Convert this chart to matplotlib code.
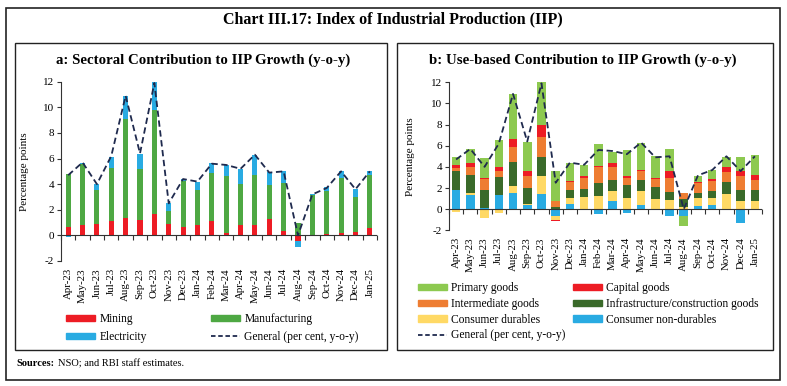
import matplotlib
matplotlib.use("Agg")
import matplotlib.pyplot as plt
import numpy as np
from matplotlib.patches import Rectangle
from matplotlib.lines import Line2D
from matplotlib.patches import Patch

plt.rcParams['font.family'] = ['Liberation Serif', 'DejaVu Serif']

months = ["Apr-23", "May-23", "Jun-23", "Jul-23", "Aug-23", "Sep-23", "Oct-23", "Nov-23",
          "Dec-23", "Jan-24", "Feb-24", "Mar-24", "Apr-24", "May-24", "Jun-24", "Jul-24",
          "Aug-24", "Sep-24", "Oct-24", "Nov-24", "Dec-24", "Jan-25"]

general = [4.7, 5.7, 4.0, 6.2, 10.9, 6.4, 11.9, 2.5, 4.4, 4.2, 5.6, 5.5,
           5.2, 6.3, 4.9, 5.0, 0.0, 3.2, 3.7, 5.0, 3.6, 5.0]

# Panel a: sectoral contributions
mining = [0.62, 0.78, 0.88, 1.14, 1.32, 1.22, 1.64, 0.88, 0.68, 0.78, 1.09, 0.18,
          0.83, 0.80, 1.25, 0.36, -0.45, -0.02, 0.10, 0.20, 0.30, 0.58]
manufacturing = [4.16, 4.78, 2.70, 4.11, 7.74, 4.00, 8.15, 0.99, 3.58, 2.80, 3.77, 4.44,
                 3.22, 3.88, 2.70, 3.72, 0.93, 3.19, 3.40, 4.27, 2.69, 4.17]
electricity = [-0.15, 0.10, 0.45, 0.90, 1.82, 1.12, 2.16, 0.65, 0.13, 0.58, 0.78, 0.88,
               1.14, 1.61, 1.01, 0.93, -0.45, 0.05, 0.24, 0.52, 0.65, 0.29]

# Panel b: use-based contributions
cons_nondurables = [1.80, 1.33, 0.12, 1.33, 1.52, 0.41, 1.42, -0.60, 0.47, 0.02, -0.50, 0.73,
                    -0.40, 0.38, -0.10, -0.65, -0.65, 0.28, 0.38, 0.05, -1.32, 0.02]
cons_durables = [-0.25, 0.16, -0.80, -0.40, 0.66, 0.09, 1.68, -0.45, 0.54, 1.17, 1.27, 0.98,
                 1.04, 1.33, 0.92, 0.85, 0.20, 0.73, 0.63, 1.40, 0.79, 0.72]
infrastructure = [1.84, 1.74, 1.68, 1.74, 2.31, 1.46, 1.84, 0.22, 0.79, 0.76, 1.17, 1.04,
                  1.24, 1.04, 1.17, 0.80, 0.75, 0.54, 0.70, 1.16, 1.04, 1.04]
intermediate = [0.29, 0.73, 1.05, 0.57, 1.40, 1.17, 1.86, 0.57, 0.76, 1.01, 1.58, 1.21,
                0.69, 0.85, 0.73, 1.32, 0.60, 0.89, 0.95, 0.95, 1.26, 1.01]
capital = [0.22, 0.41, 0.12, 0.32, 0.76, 0.51, 1.17, -0.10, 0.13, 0.13, 0.06, 0.44,
           0.16, 0.07, 0.09, 0.67, 0.02, 0.16, 0.16, 0.41, 0.53, 0.41]
primary = [0.75, 1.29, 1.84, 2.59, 4.20, 2.69, 4.02, 2.85, 1.65, 1.04, 2.09, 1.04,
           2.47, 2.56, 2.12, 2.02, -0.90, 0.57, 0.88, 1.01, 1.29, 1.92]

C_RED = '#ED1C24'
C_GREEN = '#4EA843'
C_BLUE = '#29ABE2'
C_LGREEN = '#8DC950'
C_ORANGE = '#EE7D32'
C_DGREEN = '#3A6A2A'
C_YELLOW = '#FFD965'
C_LINE = '#1F2A4E'

W, H = 787, 386
fig = plt.figure(figsize=(W / 100, H / 100), dpi=100)


def fx(px):
    return px / W


def fy(py):
    return 1 - py / H


# Outer border and panel boxes
fig.patches.append(Rectangle((fx(6), fy(380)), fx(774), (380 - 8) / H, transform=fig.transFigure,
                             fill=False, edgecolor='#222222', lw=1.2))
fig.patches.append(Rectangle((fx(15), fy(350)), fx(372), (350 - 43) / H, transform=fig.transFigure,
                             fill=False, edgecolor='#222222', lw=1.0))
fig.patches.append(Rectangle((fx(397), fy(350)), fx(376), (350 - 43) / H, transform=fig.transFigure,
                             fill=False, edgecolor='#222222', lw=1.0))

fig.text(fx(393), fy(19), "Chart III.17: Index of Industrial Production (IIP)", ha='center', va='center',
         fontsize=11.5, fontweight='bold')
fig.text(fx(203), fy(60), "a: Sectoral Contribution to IIP Growth (y-o-y)", ha='center', va='center',
         fontsize=10.7, fontweight='bold')
fig.text(fx(583), fy(60), "b: Use-based Contribution to IIP Growth (y-o-y)", ha='center', va='center',
         fontsize=10.7, fontweight='bold')

t1 = fig.text(fx(16), fy(364), "Sources:", ha='left', va='center', fontsize=7.5, fontweight='bold')
fig.text(fx(58), fy(364), "NSO; and RBI staff estimates.", ha='left', va='center', fontsize=7.5)


def stack(ax, series, colors, width):
    x = np.arange(len(months))
    pos = np.zeros(len(months))
    neg = np.zeros(len(months))
    for vals, c in zip(series, colors):
        v = np.array(vals, dtype=float)
        bottoms = np.where(v >= 0, pos, neg)
        ax.bar(x, v, width=width, bottom=bottoms, color=c, edgecolor='none', zorder=2)
        pos = pos + np.where(v >= 0, v, 0)
        neg = neg + np.where(v < 0, v, 0)


def style_axes(ax):
    x = np.arange(len(months))
    ax.set_xlim(-0.5, len(months) - 0.5)
    ax.set_ylim(-2, 12)
    ax.set_yticks(np.arange(-2, 13, 2))
    ax.set_yticklabels([str(v) for v in range(-2, 13, 2)], fontsize=8)
    for s in ['top', 'right', 'bottom']:
        ax.spines[s].set_visible(False)
    ax.spines['left'].set_color('#333333')
    ax.spines['left'].set_linewidth(0.8)
    ax.tick_params(axis='y', length=3, width=0.8, color='#333333', pad=2)
    ax.set_xticks(x)
    ax.set_xticklabels(months, rotation=90, fontsize=7.8)
    ax.tick_params(axis='x', length=0, pad=5)
    ax.axhline(0, color='#333333', lw=0.8, zorder=3)
    sec = ax.secondary_xaxis(2 / 14)
    sec.set_xticks(np.arange(-0.5, len(months), 1.0))
    sec.set_xticklabels([])
    sec.spines['bottom'].set_visible(False)
    sec.tick_params(axis='x', direction='out', length=3.5, width=0.8, color='#333333')
    ax.set_ylabel("Percentage points", fontsize=8)


# Panel a
axa = fig.add_axes([fx(61), fy(261), fx(316), (261 - 81.7) / H])
stack(axa, [mining, manufacturing, electricity], [C_RED, C_GREEN, C_BLUE], 0.36)
axa.plot(np.arange(len(months)), general, color=C_LINE, lw=1.3, ls=(0, (3.5, 2)), zorder=4)
style_axes(axa)
axa.yaxis.set_label_coords(-(61 - 29) / 316, 0.5)

# Panel b
axb = fig.add_axes([fx(449), fy(230.3), fx(313), (230.3 - 82.3) / H])
stack(axb, [cons_nondurables, cons_durables, infrastructure, intermediate, capital, primary],
      [C_BLUE, C_YELLOW, C_DGREEN, C_ORANGE, C_RED, C_LGREEN], 0.6)
axb.plot(np.arange(len(months)), general, color=C_LINE, lw=1.3, ls=(0, (3.5, 2)), zorder=4)
style_axes(axb)
axb.yaxis.set_label_coords(-(449 - 415) / 313, 0.5)

leg_kw = dict(frameon=False, fontsize=8.3, handlelength=2.5, handleheight=0.45,
              handletextpad=0.4, labelspacing=0.33, borderpad=0, borderaxespad=0,
              loc='upper left')
line_h = Line2D([], [], color=C_LINE, lw=1.3, ls=(0, (2.5, 1.5)))

la1 = fig.legend([Patch(color=C_RED), Patch(color=C_BLUE)], ["Mining", "Electricity"],
                 bbox_to_anchor=(fx(66), fy(313)), **dict(leg_kw, labelspacing=0.5))
la2 = fig.legend([Patch(color=C_GREEN), line_h], ["Manufacturing", "General (per cent, y-o-y)"],
                 bbox_to_anchor=(fx(211), fy(313)), **dict(leg_kw, labelspacing=0.5))
lb1 = fig.legend([Patch(color=C_LGREEN), Patch(color=C_ORANGE), Patch(color=C_YELLOW), line_h],
                 ["Primary goods", "Intermediate goods", "Consumer durables", "General (per cent, y-o-y)"],
                 bbox_to_anchor=(fx(418), fy(282)), **leg_kw)
lb2 = fig.legend([Patch(color=C_RED), Patch(color=C_DGREEN), Patch(color=C_BLUE)],
                 ["Capital goods", "Infrastructure/construction goods", "Consumer non-durables"],
                 bbox_to_anchor=(fx(573), fy(282)), **leg_kw)

fig.savefig("out.png", dpi=100)
